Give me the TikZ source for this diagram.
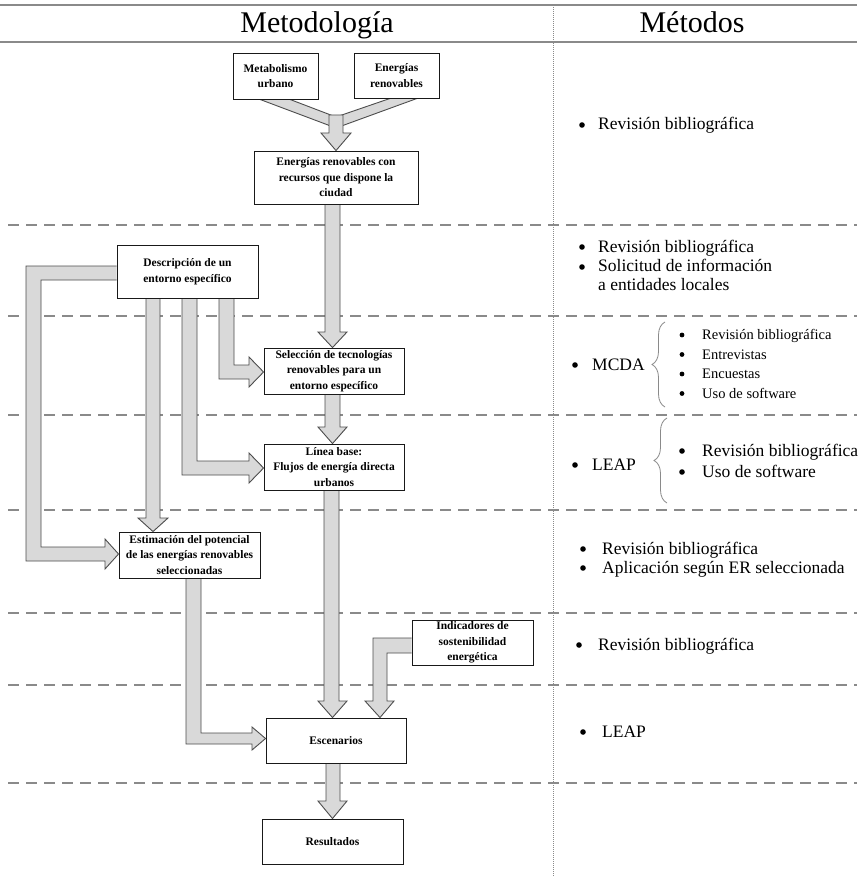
\documentclass[tikz,border=0pt]{standalone}
\usepackage{fontspec}
\setmainfont{Liberation Serif}
\usetikzlibrary{calc,decorations.pathreplacing}

\definecolor{arrowfill}{HTML}{D9D9D9}
\definecolor{arrowline}{HTML}{4D4D4D}
\definecolor{rulegray}{HTML}{8A8A8A}

\pgfdeclarelayer{background}
\pgfsetlayers{background,main}

\begin{document}
\begin{tikzpicture}[x=1pt,y=-1pt,
  box/.style={draw=black!90, line width=0.9pt, fill=white, align=center,
    inner sep=1pt, font=\fontsize{11.5}{15.5}\selectfont\bfseries},
  flow/.style={fill=arrowfill, draw=arrowline, line width=0.9pt, line join=miter},
  sep/.style={draw=rulegray, line width=1.3pt, dash pattern=on 11pt off 7pt},
  headrule/.style={draw=rulegray, line width=1.6pt},
  colrule/.style={draw=rulegray, line width=0.8pt, dash pattern=on 1pt off 1pt},
  title/.style={anchor=base, inner sep=0pt, font=\fontsize{30}{32}\selectfont},
  item/.style={anchor=base west, inner sep=0pt, font=\fontsize{17.5}{19}\selectfont},
  subitem/.style={anchor=base west, inner sep=0pt, font=\fontsize{14.5}{17}\selectfont},
  dot/.style={fill=black},
  brace/.style={draw=rulegray, line width=0.8pt, decorate,
    decoration={brace, amplitude=13pt}},
]
\useasboundingbox (0,0) rectangle (857,877);

% ---- table frame ----
\draw[headrule] (0,5) -- (857,5);
\draw[headrule] (0,42) -- (857,42);
\draw[colrule] (553,5) -- (553,877);
\node[title] (hmet) at (317,33) {Metodología};
\node[title] (hmeth) at (692,33) {Métodos};

% ---- process boxes ----
\node[box, minimum width=85pt, minimum height=46pt] (meta) at (275.5,76) {Metabolismo\\urbano};
\node[box, minimum width=85pt, minimum height=45pt] (ener) at (396.5,75.5) {Energías\\renovables};
\node[box, minimum width=164pt, minimum height=53pt] (recu) at (336,177.5) {Energías renovables con\\recursos que dispone la\\ciudad};
\node[box, minimum width=141pt, minimum height=53pt] (desc) at (187.5,271.5) {Descripción de un\\entorno específico};
\node[box, minimum width=140pt, minimum height=46pt] (sele) at (334,371) {Selección de tecnologías\\renovables para un\\entorno específico};
\node[box, minimum width=140pt, minimum height=46pt] (lbase) at (334,467) {Línea base:\\Flujos de energía directa\\urbanos};
\node[box, minimum width=141pt, minimum height=46pt] (esti) at (189.5,555) {Estimación del potencial\\de las energías renovables\\seleccionadas};
\node[box, minimum width=121pt, minimum height=45pt] (indi) at (472.5,642.5) {Indicadores de\\sostenibilidad\\energética};
\node[box, minimum width=140pt, minimum height=45pt] (esce) at (336,740.5) {Escenarios};
\node[box, minimum width=141pt, minimum height=45pt] (resu) at (332.5,841.5) {Resultados};

\begin{pgfonlayer}{background}
\fill[white] (0,0) rectangle (857,877);
% ---- row separators ----
\foreach \yy in {225,316,415,510,613,685,783}
  \draw[sep] (8,\yy) -- (857,\yy);

% ---- block arrows ----
% two inputs merging into one
\filldraw[flow] (260,0 |- meta.south) -- (290,0 |- meta.south) -- (336,117) -- (336,128) -- cycle;
\filldraw[flow] (390,0 |- ener.south) -- (417,0 |- ener.south) -- (336,128) -- (336,117) -- cycle;
\filldraw[flow] (329,115) -- (343,115) -- (343,133) -- (351,133) -- (336,0 |- recu.north)
  -- (321,133) -- (329,133) -- cycle;
% main vertical chain
\filldraw[flow] (325,0 |- recu.south) -- (325,332) -- (318,332) -- (332.5,0 |- sele.north)
  -- (347,332) -- (340,332) -- (340,0 |- recu.south);
\filldraw[flow] (325,0 |- sele.south) -- (325,427) -- (318,427) -- (332.5,0 |- lbase.north)
  -- (347,427) -- (340,427) -- (340,0 |- sele.south);
\filldraw[flow] (324,0 |- lbase.south) -- (324,701) -- (318,701) -- (332.5,0 |- esce.north)
  -- (347,701) -- (339,701) -- (339,0 |- lbase.south);
\filldraw[flow] (326,0 |- esce.south) -- (326,801) -- (318,801) -- (332.5,0 |- resu.north)
  -- (347,801) -- (340,801) -- (340,0 |- esce.south);
% outputs of the description box
\filldraw[flow] (desc.west |- 0,266) -- (26,266) -- (26,561) -- (105,561) -- (105,569)
  -- (esti.west |- 0,554) -- (105,539) -- (105,547) -- (41,547) -- (41,280) -- (desc.west |- 0,280);
\filldraw[flow] (146,0 |- desc.south) -- (146,518) -- (138,518) -- (153,0 |- esti.north)
  -- (168,518) -- (160,518) -- (160,0 |- desc.south);
\filldraw[flow] (182,0 |- desc.south) -- (182,475) -- (249,475) -- (249,483) -- (lbase.west |- 0,468)
  -- (249,453) -- (249,461) -- (197,461) -- (197,0 |- desc.south);
\filldraw[flow] (219,0 |- desc.south) -- (219,379) -- (249,379) -- (249,387) -- (sele.west |- 0,372)
  -- (249,357) -- (249,365) -- (234,365) -- (234,0 |- desc.south);
% potential estimate and indicators into the scenarios
\filldraw[flow] (186,0 |- esti.south) -- (186,744) -- (252,744) -- (252,750) -- (esce.west |- 0,738.5)
  -- (252,727) -- (252,733) -- (201,733) -- (201,0 |- esti.south);
\filldraw[flow] (indi.west |- 0,638) -- (373,638) -- (373,701) -- (365,701) -- (380,0 |- esce.north)
  -- (394,701) -- (387,701) -- (387,653) -- (indi.west |- 0,653);
\end{pgfonlayer}

% ---- methods column: bullets ----
\foreach \bx/\by in {582/125, 582/247, 582/267, 575/365, 575/465,
                     682/451, 682/472, 583/549, 583/568, 579/645, 583/732}
  \fill[dot] (\bx,\by) circle (2.8pt);
\foreach \by in {335, 354.5, 374, 393.5}
  \fill[dot] (682,\by) circle (2.4pt);

% ---- methods column: texts ----
\node[item] (r1) at (598,130) {Revisión bibliográfica};

\node[item] (r2a) at (598,252) {Revisión bibliográfica};
\node[item] (r2b) at (598,271.5) {Solicitud de información};
\node[item] (r2c) at (598,290.5) {a entidades locales};

\node[item] (r3) at (592,370) {MCDA};
\draw[brace] (665,407) -- (665,322);
\node[subitem] (r3a) at (702,339.5) {Revisión bibliográfica};
\node[subitem] (r3b) at (702,359) {Entrevistas};
\node[subitem] (r3c) at (702,378.5) {Encuestas};
\node[subitem] (r3d) at (702,398) {Uso de software};

\node[item] (r4) at (592,470) {LEAP};
\draw[brace] (667,503) -- (667,418);
\node[item] (r4a) at (702,456) {Revisión bibliográfica};
\node[item] (r4b) at (702,477) {Uso de software};

\node[item] (r5a) at (602,554) {Revisión bibliográfica};
\node[item] (r5b) at (602,573) {Aplicación según ER seleccionada};

\node[item] (r6) at (598,650) {Revisión bibliográfica};

\node[item] (r7) at (602,737) {LEAP};
\end{tikzpicture}
\end{document}
